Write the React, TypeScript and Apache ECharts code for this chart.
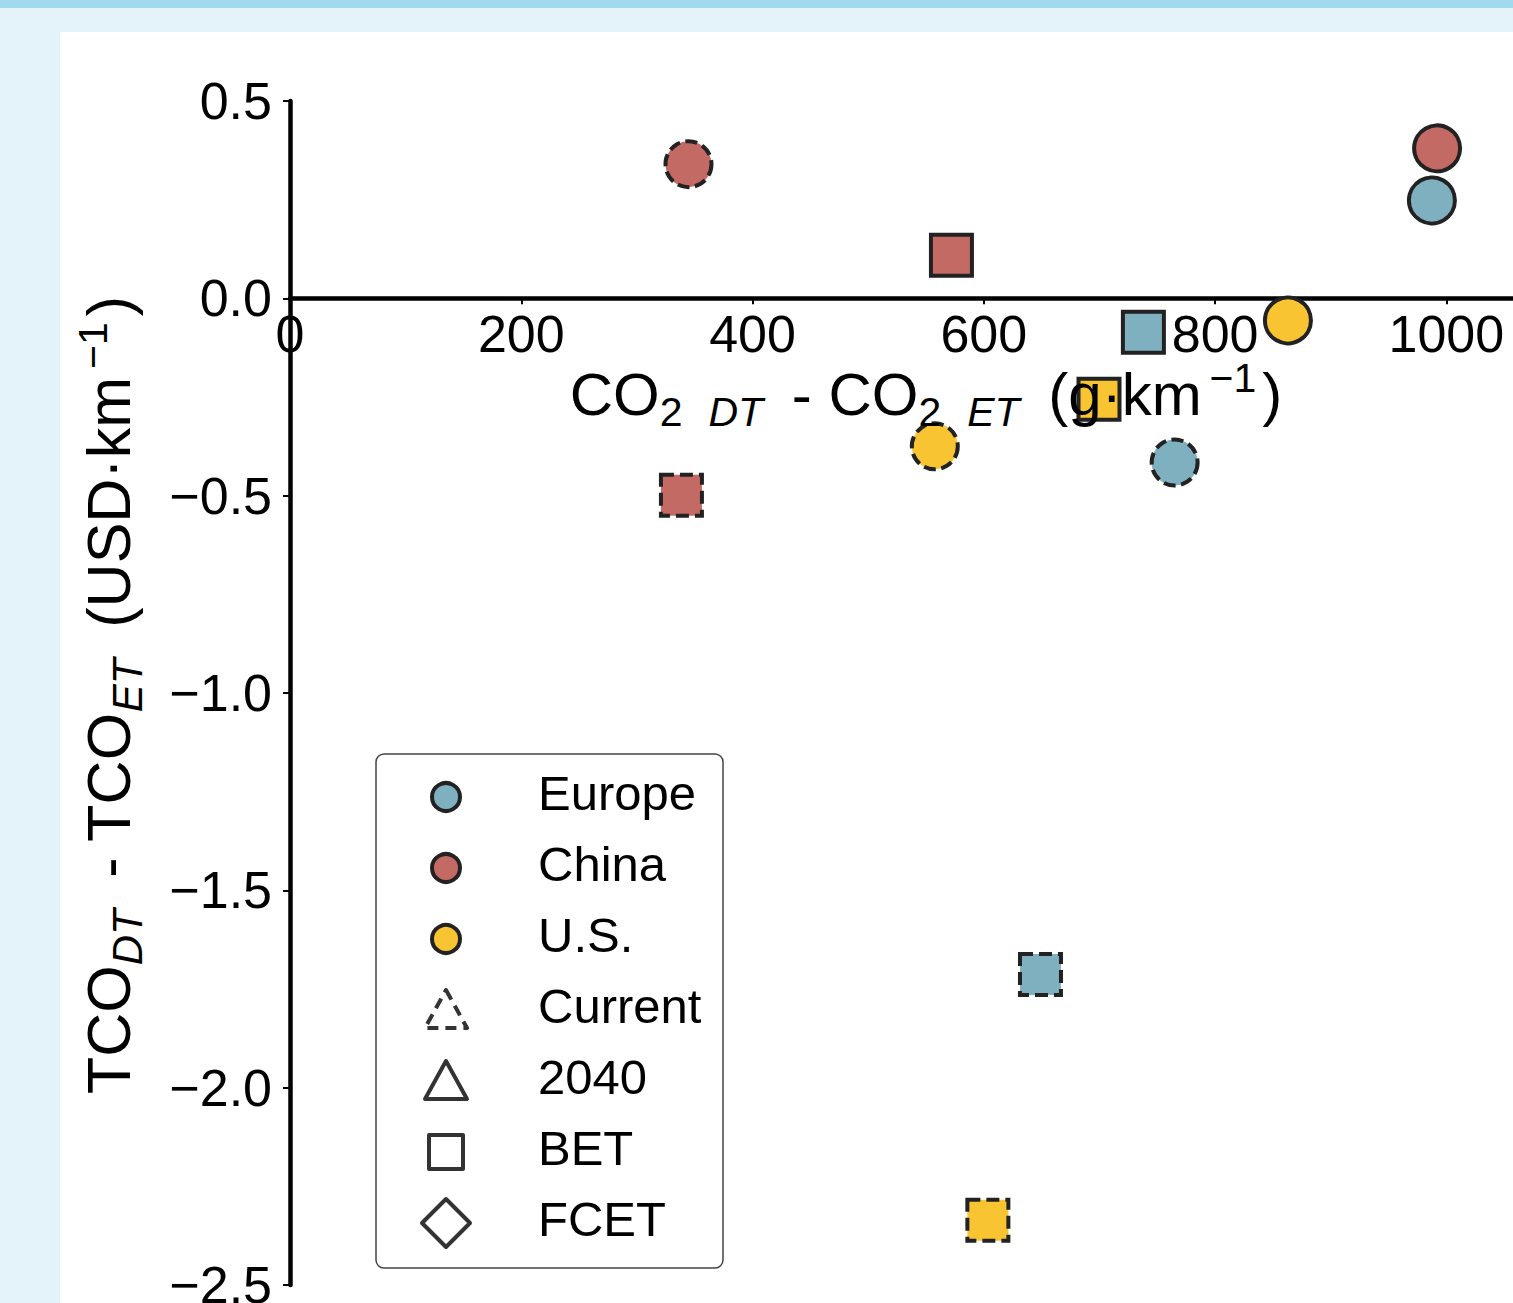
import React, { useEffect, useRef } from 'react';
import * as echarts from 'echarts';

const FONT = '"Liberation Sans", Arial, sans-serif';

// Regions (legend order) and colours
const regionNames = ['Europe', 'China', 'U.S.'];
const regionColors = ['#7eb0bf', '#c46a64', '#f8c431'];

// Each region has four points in this order
const pointTech = ['FCET', 'BET', 'FCET', 'BET'];
const pointPeriod = ['2040', '2040', 'Current', 'Current'];

// CO2 DT - CO2 ET (g/km) and TCO DT - TCO ET (USD/km)
const europeCO2 = [987.5, 738, 765, 649];
const europeTCO = [0.248, -0.086, -0.416, -1.713];
const chinaCO2 = [992, 572, 344.6, 338.5];
const chinaTCO = [0.38, 0.109, 0.34, -0.499];
const usCO2 = [863, 699.6, 557.6, 603.5];
const usTCO = [-0.056, -0.256, -0.375, -2.336];

// Axis ticks
const xTicks = [0, 200, 400, 600, 800, 1000];
const yTicks = [0.5, 0.0, -0.5, -1.0, -1.5, -2.0, -2.5];

// Extra legend entries (shape / period keys)
const keyNames = ['Current', '2040', 'BET', 'FCET'];
const keyIcons = ['triangle-dashed', 'triangle', 'square', 'diamond'];

const regionCO2 = [europeCO2, chinaCO2, usCO2];
const regionTCO = [europeTCO, chinaTCO, usTCO];

const rich = {
  m: { fontSize: 60, fontFamily: FONT, fill: '#000', verticalAlign: 'middle' },
  my: { fontSize: 61, fontFamily: FONT, fill: '#000', verticalAlign: 'middle' },
  s: { fontSize: 41, fontFamily: FONT, fill: '#000', verticalAlign: 'middle', padding: [36, 0, 0, 0] },
  si: { fontSize: 42, fontFamily: FONT, fontStyle: 'italic', fill: '#000', verticalAlign: 'middle', padding: [36, 14, 0, 0] },
  sil: { fontSize: 41, fontFamily: FONT, fontStyle: 'italic', fill: '#000', verticalAlign: 'middle', padding: [36, 12, 0, 26] },
  sup: { fontSize: 41, fontFamily: FONT, fill: '#000', verticalAlign: 'middle', padding: [0, 6, 32, 8] },
};

const xName = '{m|CO}{s|2}{sil|DT}{m| - CO}{s|2}{sil|ET}{m| (g·km}{sup|−1}{m|)}';
const yName = '{my|TCO}{si|DT}{my| - TCO}{si|ET}{my| (USD·km}{sup|−1}{my|)}';

// geometry of the plot frame (pixels)
const GRID_TOP = 101;
const GRID_H = 1184;
const GRID_LEFT = 290;
const GRID_W = 1272;

// legend geometry
const LEG_ICON_X = 446;
const LEG_TEXT_X = 538;
const LEG_ROW0 = 797;
const LEG_PITCH = 71;

function legendIcon(kind: string, cy: number, color?: string): any {
  const cx = LEG_ICON_X;
  const key = { fill: '#fff', stroke: '#333', lineWidth: 4, lineJoin: 'round' };
  if (kind === 'circle') {
    return { type: 'circle', z: 20, silent: true, shape: { cx, cy, r: 14 }, style: { fill: color, stroke: '#222', lineWidth: 4 } };
  }
  if (kind === 'triangle' || kind === 'triangle-dashed') {
    return {
      type: 'polygon',
      z: 20,
      silent: true,
      shape: { points: [[cx, cy - 20], [cx + 21, cy + 18], [cx - 21, cy + 18]] },
      style: { ...key, lineDash: kind === 'triangle-dashed' ? [11, 7] : null },
    };
  }
  if (kind === 'square') {
    return { type: 'rect', z: 20, silent: true, shape: { x: cx - 17, y: cy - 17, width: 34, height: 34 }, style: key };
  }
  return {
    type: 'polygon',
    z: 20,
    silent: true,
    shape: { points: [[cx, cy - 24], [cx + 24, cy], [cx, cy + 24], [cx - 24, cy]] },
    style: key,
  };
}

export default function App() {
  const ref = useRef<HTMLDivElement>(null);

  useEffect(() => {
    if (!ref.current) return;
    const chart = echarts.init(ref.current, null, { renderer: 'svg' });

    const yMin = yTicks[yTicks.length - 1];
    const yMax = yTicks[0];
    const zeroOffset = -(GRID_H * (0 - yMin)) / (yMax - yMin);

    const drawOrder = [1, 0, 2]; // China, Europe, U.S.
    const regionSeries = drawOrder.map((r) => ({
      type: 'scatter',
      name: regionNames[r],
      z: 3,
      itemStyle: { color: regionColors[r], borderColor: '#222', borderWidth: 4, opacity: 1 },
      emphasis: { disabled: true },
      data: regionCO2[r].map((x, i) => ({
        value: [x, regionTCO[r][i]],
        symbol: pointTech[i] === 'BET' ? 'rect' : 'circle',
        symbolSize: pointTech[i] === 'BET' ? 41 : 46,
        itemStyle: {
          borderType: pointPeriod[i] === 'Current' ? (pointTech[i] === 'BET' ? [13, 6] : [12, 5.5]) : 'solid',
        },
      })),
    }));

    const legendLabels = [...regionNames, ...keyNames];
    const legendGraphics: any[] = [
      {
        type: 'rect',
        z: 15,
        silent: true,
        shape: { x: 376, y: 754, width: 347, height: 514, r: 8 },
        style: { fill: '#ffffff', stroke: '#444', lineWidth: 1.5 },
      },
    ];
    legendLabels.forEach((label, k) => {
      const cy = LEG_ROW0 + LEG_PITCH * k;
      legendGraphics.push(
        k < regionNames.length
          ? legendIcon('circle', cy, regionColors[k])
          : legendIcon(keyIcons[k - regionNames.length], cy)
      );
      legendGraphics.push({
        type: 'text',
        z: 20,
        silent: true,
        x: LEG_TEXT_X,
        y: cy - 4,
        style: { text: label, fill: '#000', fontSize: 49, fontFamily: FONT, align: 'left', verticalAlign: 'middle' },
      });
    });

    const option = {
      animation: false,
      backgroundColor: '#e4f3f9',
      grid: {
        left: GRID_LEFT,
        top: GRID_TOP,
        width: GRID_W,
        height: GRID_H,
        containLabel: false,
        outerBoundsMode: 'none',
      },
      xAxis: {
        type: 'value',
        position: 'bottom',
        offset: zeroOffset,
        min: 0,
        max: 1100,
        interval: 200,
        axisLine: { onZero: false, lineStyle: { color: '#000', width: 4.5 } },
        axisTick: { show: true, length: 6, lineStyle: { color: '#000', width: 2 } },
        axisLabel: {
          fontSize: 52,
          color: '#000',
          fontFamily: FONT,
          margin: 10,
          showMaxLabel: false,
          formatter: (v: number) => (xTicks.indexOf(v) >= 0 ? String(v) : ''),
        },
        splitLine: { show: false },
      },
      yAxis: {
        type: 'value',
        min: yMin,
        max: yMax,
        interval: 0.5,
        axisLine: { onZero: false, lineStyle: { color: '#000', width: 4.5 } },
        axisTick: { show: true, length: 7, lineStyle: { color: '#000', width: 2 } },
        axisLabel: {
          fontSize: 52,
          color: '#000',
          fontFamily: FONT,
          margin: 18,
          formatter: (v: number) => (v < 0 ? '−' + Math.abs(v).toFixed(1) : v.toFixed(1)),
        },
        splitLine: { show: false },
      },
      graphic: [
        { type: 'rect', z: -100, silent: true, shape: { x: 0, y: 0, width: 1513, height: 8 }, style: { fill: '#a2d9ec' } },
        { type: 'rect', z: -100, silent: true, shape: { x: 60, y: 32, width: 1453, height: 1271 }, style: { fill: '#ffffff' } },
        ...legendGraphics,
        {
          type: 'text',
          z: 100,
          silent: true,
          x: 926,
          y: 394,
          style: { text: xName, rich, align: 'center', verticalAlign: 'middle', fill: '#000', fontSize: 60, fontFamily: FONT },
        },
        {
          type: 'text',
          z: 100,
          silent: true,
          x: 109,
          y: 695,
          rotation: Math.PI / 2,
          style: { text: yName, rich, align: 'center', verticalAlign: 'middle', fill: '#000', fontSize: 61, fontFamily: FONT },
        },
      ],
      series: regionSeries,
    };

    chart.setOption(option as any);
    return () => chart.dispose();
  }, []);

  return (
    <div
      ref={ref}
      style={{ position: 'absolute', left: 0, top: 0, width: 1513, height: 1303 }}
    />
  );
}
